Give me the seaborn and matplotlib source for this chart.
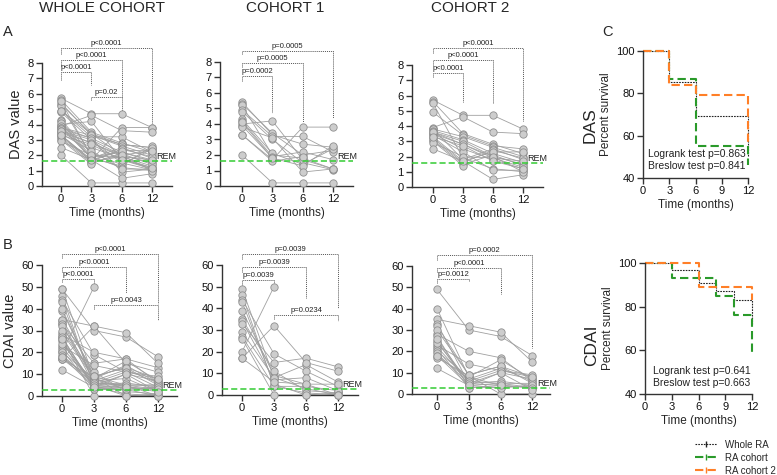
import numpy as np
import pandas as pd
import matplotlib
matplotlib.use("Agg")
import matplotlib.pyplot as plt
from matplotlib.lines import Line2D
import seaborn as sns

sns.set_theme(style="ticks")
plt.rcParams['font.family'] = ['Liberation Sans', 'DejaVu Sans']

nan = np.nan
time_labels = ["0", "3", "6", "12"]

# DAS per patient at 0, 3, 6, 12 months
das_c1 = [
    [5.4, 3.3, 2.7, 2.5], [5.3, 3.4, 2.0, 2.3], [5.2, 2.0, 1.8, 1.1],
    [4.9, 3.2, 3.2, 2.2], [4.8, 3.0, 1.5, 1.05], [4.3, 2.1, 1.4, 2.4],
    [4.2, 1.9, 2.2, 1.7], [4.0, 4.2, 1.7, 1.1], [3.9, 1.8, 1.3, 2.6],
    [3.8, 3.1, 0.9, 1.1], [3.3, 1.7, 3.8, 3.8], [3.3, 1.6, 1.9, nan],
    [2.0, 0.2, 0.2, 0.2], [4.1, 1.8, nan, nan],
]
das_c2 = [
    [5.7, 4.7, 4.7, 3.8], [5.6, 3.5, 2.8, 2.2], [5.5, 1.9, 1.2, 1.0],
    [4.9, 3.4, 2.7, 2.5], [3.9, 4.6, 3.6, 3.5], [3.8, 3.3, 2.6, 2.0],
    [3.8, 1.8, 2.5, 1.8], [3.7, 3.1, 2.2, 1.6], [3.6, 3.0, 2.0, 1.5],
    [3.5, 2.8, 1.9, 1.3], [3.5, 2.5, 1.8, 1.2], [3.4, 2.3, 1.1, 1.1],
    [3.3, 1.7, 0.5, 0.8], [3.2, 1.6, 2.4, 1.9], [3.1, 1.5, 2.1, 1.4],
    [3.0, 1.4, nan, nan], [2.9, 2.0, 1.9, 1.7], [2.5, 1.7, 2.3, 2.3],
    [3.6, nan, 2.0, 1.0], [3.3, 2.7, 1.7, 1.2],
]

# CDAI per patient at 0, 3, 6, 12 months
cdai_c1 = [
    [49, 8, 14, 6], [46, 4, 4, 2], [44, 19, 11, 4], [43, 5, 0, 1],
    [39, 9, 5, 0], [35, 11, 2, 1], [34, 7, 8, 2], [33, 15, 17, 13],
    [29, 8, 3, 0], [27, 4, 1, 0], [26, 0, 0, 0], [20, 50, nan, nan],
    [17, 32, 15, 11], [17, 6, 5, 5],
]
cdai_c2 = [
    [49, 30, 27, 18], [40, 8, 4, 3], [35, 32, 29, 15], [33, 5, 10, 7],
    [32, 9, 13, 8], [28, 20, 17, 6], [25, 4, 3, 4], [23, 14, 11, 9],
    [22, 6, 5, 5], [21, 3, 4, 3], [20, 8, 16, 7], [19, 5, 6, 4],
    [18, 7, 12, 6], [17, nan, 0, 0], [12, 4, 5, 3], [30, 9, 13, 5],
    [24, 6, 11, 8], [27, 3, 3, 4], [26, 5, 4, 3], [18, 4, 10, 2],
]

# p-value brackets: (from, to, top, left leg end, right leg end, label)
br_das_whole = [(0, 1, 7.4, 6.9, 6.6, "p<0.0001"), (0, 2, 8.2, 7.8, 5.8, "p<0.0001"),
                (0, 3, 9.0, 8.6, 4.1, "p<0.0001"), (1, 2, 5.8, 5.6, 4.9, "p=0.02")]
br_das_c1 = [(0, 1, 7.1, 6.8, 4.7, "p=0.0002"), (0, 2, 7.95, 7.7, 4.1, "p=0.0005"),
             (0, 3, 8.7, 8.5, 4.4, "p=0.0005")]
br_das_c2 = [(0, 1, 7.5, 7.2, 5.6, "p<0.0001"), (0, 2, 8.3, 8.0, 5.5, "p<0.0001"),
             (0, 3, 9.1, 8.8, 4.3, "p<0.0001")]
br_cdai_whole = [(0, 1, 53.5, 52, 51, "p<0.0001"), (0, 2, 59, 57, 47, "p<0.0001"),
                 (0, 3, 65, 63, 42, "p<0.0001"), (1, 3, 41.5, 40, 35, "p=0.0043")]
br_cdai_c1 = [(0, 1, 53, 51, 51, "p=0.0039"), (0, 2, 59, 57, 45, "p=0.0039"),
              (0, 3, 65, 63, 40, "p=0.0039"), (1, 3, 37, 35, 34, "p=0.0234")]
br_cdai_c2 = [(0, 1, 54, 52, 53, "p=0.0012"), (0, 2, 59, 57, 47, "p<0.0001"),
              (0, 3, 65, 63, 21.5, "p=0.0002")]

# survival (percent) curves
das_t = [0, 3, 6, 12]
das_whole = [100, 85.5, 69.5, 50]
das_rac1 = [100, 86.7, 55, 46]
das_rac2 = [100, 84, 79, 55]
cdai_t = [0, 3, 6, 8, 10, 12]
cdai_whole = [100, 97, 91, 87, 83, 72]
cdai_rac1 = [100, 93, 93, 85, 76, 59]
cdai_rac2 = [100, 100, 89, 89, 89, 83]

W, H = 777, 475
fig = plt.figure(figsize=(W / 100, H / 100), dpi=100)


def px_axes(l, r, t, b):
    return fig.add_axes([l / W, 1 - b / H, (r - l) / W, (b - t) / H])


def long_df(rows):
    recs = []
    for pid, vals in enumerate(rows):
        for t, v in enumerate(vals):
            if not np.isnan(v):
                recs.append({"pid": pid, "t": t, "v": v})
    return pd.DataFrame(recs)


def style(ax):
    sns.despine(ax=ax)
    for s in ["left", "bottom"]:
        ax.spines[s].set_color("#333333")
        ax.spines[s].set_linewidth(1.0)
    ax.tick_params(length=4, width=1, color="#333333", labelsize=8, pad=2,
                   labelcolor="#111111")


def spaghetti(ax, rows, xlim, ylim, yticks, rem, brackets, ylabel=None):
    d = long_df(rows)
    sns.lineplot(data=d, x="t", y="v", units="pid", estimator=None, color="#a0a0a0",
                 lw=0.6, ax=ax, legend=False)
    sns.scatterplot(data=d, x="t", y="v", s=28, color="#cdcdcd", edgecolor="#8f8f8f",
                    linewidth=0.6, clip_on=False, zorder=3, ax=ax, legend=False)
    ax.axhline(rem, color="#33cc33", ls=(0, (4, 2)), lw=1.1, zorder=4)
    ax.text(3.15, rem, "REM", fontsize=6.5, va="bottom", ha="left", color="#222222")
    ax.set_xlim(*xlim)
    ax.set_ylim(*ylim)
    ax.set_yticks(yticks)
    ax.set_xticks(range(4))
    ax.set_xticklabels(time_labels)
    ax.set_xlabel("Time (months)", fontsize=8.5, labelpad=2)
    if ylabel:
        ax.set_ylabel(ylabel, fontsize=10.5, labelpad=3)
    else:
        ax.set_ylabel("")
    span = ylim[1] - ylim[0]
    for x1, x2, yt, yl, yr, lab in brackets:
        ax.plot([x1, x1, x2, x2], [yl, yt, yt, yr], ls=(0, (1, 1)), color="#555555",
                lw=0.7, clip_on=False)
        ax.text((x1 + x2) / 2, yt + span * 0.008, lab, fontsize=5.5, ha="center",
                va="bottom", color="#222222")
    style(ax)


ax = px_axes(42, 172, 63, 186)
spaghetti(ax, das_c1 + das_c2, (-0.63, 3.66), (0, 8), range(9), 1.6, br_das_whole, "DAS value")
ax = px_axes(220, 353, 62, 186)
spaghetti(ax, das_c1, (-0.73, 3.66), (0, 8), range(9), 1.6, br_das_c1)
ax = px_axes(412, 543, 65, 187)
spaghetti(ax, das_c2, (-0.7, 3.67), (0, 8), range(9), 1.6, br_das_c2)

ax = px_axes(42, 177, 265, 396)
spaghetti(ax, cdai_c1 + cdai_c2, (-0.63, 3.6), (0, 60), range(0, 61, 10), 2.8, br_cdai_whole, "CDAI value")
ax = px_axes(222, 358, 265, 395)
spaghetti(ax, cdai_c1, (-0.63, 3.63), (0, 60), range(0, 61, 10), 2.8, br_cdai_c1)
ax = px_axes(412, 550, 266, 394)
spaghetti(ax, cdai_c2, (-0.79, 3.56), (0, 60), range(0, 61, 10), 2.8, br_cdai_c2)

curve_styles = [("Whole RA", "#222222", (0, (1.5, 1)), 0.8),
                ("RA cohort", "#2a9a2a", (0, (4, 2)), 1.5),
                ("RA cohort 2", "#ff7f27", (0, (4, 2)), 1.5)]


def survival(ax, t, curves, stats, tx, ty):
    for (lab, col, ls, lw), vals in zip(curve_styles, curves):
        d = pd.DataFrame({"t": t, "s": vals})
        sns.lineplot(data=d, x="t", y="s", drawstyle="steps-post", color=col, ls=ls,
                     lw=lw, ax=ax, legend=False, clip_on=False)
    ax.set_xlim(0, 12)
    ax.set_ylim(40, 100)
    ax.set_xticks([0, 3, 6, 9, 12])
    ax.set_yticks([40, 60, 80, 100])
    ax.set_xlabel("Time (months)", fontsize=8.5, labelpad=2)
    ax.set_ylabel("Percent survival", fontsize=8.5, labelpad=3)
    for line, y in zip(stats, ty):
        ax.text(tx, y, line, transform=ax.transAxes, fontsize=7.5, va="center",
                color="#222222")
    style(ax)


ax = px_axes(643, 748, 51, 178)
survival(ax, das_t, [das_whole, das_rac1, das_rac2],
         ["Logrank test p=0.863", "Breslow test p=0.841"], 0.05, [0.19, 0.094])
ax = px_axes(645, 752, 263, 394)
survival(ax, cdai_t, [cdai_whole, cdai_rac1, cdai_rac2],
         ["Logrank test p=0.641", "Breslow test p=0.663"], 0.075, [0.176, 0.084])

fig.text(590 / W, 1 - 125 / H, "DAS", fontsize=12.5, rotation=90, ha="center", va="center")
fig.text(592 / W, 1 - 345 / H, "CDAI", fontsize=12.5, rotation=90, ha="center", va="center")

handles = [Line2D([], [], color=c, ls=ls, lw=lw, marker="|", markersize=4)
           for _, c, ls, lw in curve_styles]
fig.legend(handles, [s[0] for s in curve_styles], loc="upper left",
           bbox_to_anchor=(690 / W, 1 - 435 / H), frameon=False, fontsize=7,
           handlelength=2.3, labelspacing=0.3, handletextpad=0.8, borderpad=0)

fig.text(102 / W, 1 - 8 / H, "WHOLE COHORT", fontsize=11, ha="center", va="center")
fig.text(285 / W, 1 - 8 / H, "COHORT 1", fontsize=11, ha="center", va="center")
fig.text(470 / W, 1 - 8 / H, "COHORT 2", fontsize=11, ha="center", va="center")
fig.text(3 / W, 1 - 32 / H, "A", fontsize=10.5, ha="left", va="center")
fig.text(3 / W, 1 - 245 / H, "B", fontsize=10.5, ha="left", va="center")
fig.text(602 / W, 1 - 32 / H, "C", fontsize=10.5, ha="left", va="center")

fig.savefig("out.png", dpi=100)
